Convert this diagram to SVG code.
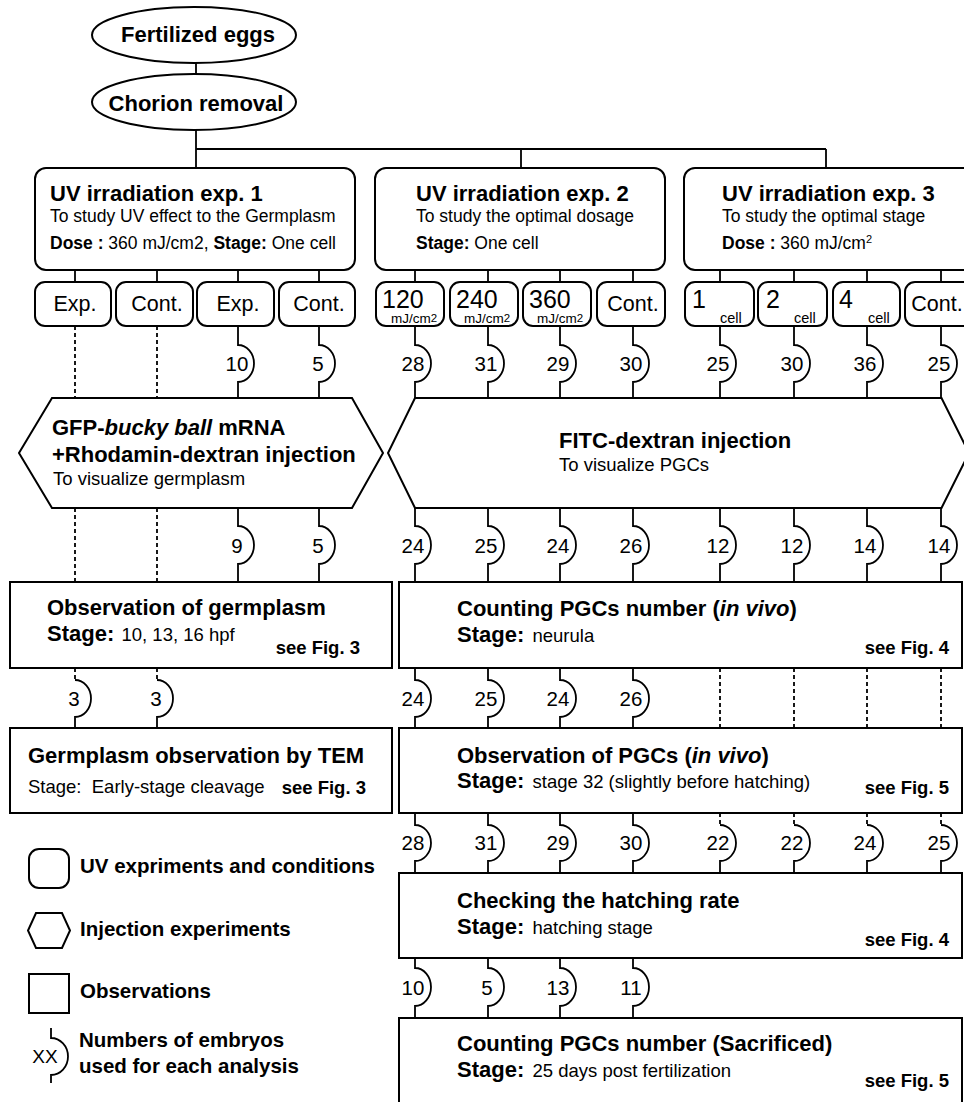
<svg xmlns="http://www.w3.org/2000/svg" width="964" height="1102" viewBox="0 0 964 1102">
<style>
text{font-family:"Liberation Sans",Arial,Helvetica,sans-serif;fill:#000}
.box{fill:#fff;stroke:#000;stroke-width:2}
.ln{fill:none;stroke:#000;stroke-width:1.8}
.ds{fill:none;stroke:#000;stroke-width:1.8;stroke-dasharray:4 3}
.h{font-size:22px;font-weight:bold}
.b{font-weight:bold}
.i{font-style:italic}
.s{font-size:17.5px}
.v{font-size:18.5px}
.sf{font-size:18.5px;font-weight:bold;text-anchor:end}
.n{font-size:20.5px;text-anchor:middle}
.c{font-size:21.5px;text-anchor:middle}
.big{font-size:25px}
.sm{font-size:13.5px}
.cl{font-size:14.5px}
.lg{font-size:20.5px;font-weight:bold}
.mid{text-anchor:middle}
</style>
<rect width="964" height="1102" fill="#fff"/>

<g id="connectors">
  <path class="ln" d="M196,63V74M196,130V168M196,149H826M521,149V168M826,149V168"/>
  <path class="ln" d="M75,270V282M157,270V282M238,270V282M319,270V282M415,270V282M488,270V282M560,270V282M633,270V282M720,270V282M794,270V282M867,270V282M941,270V282"/>
  <!-- Row A -->
  <path class="ds" d="M75,326V398M157,326V398"/>
  <path class="ln" d="M238,326V345A16,18.5 0 0 1 238,382V398M319,326V345A16,18.5 0 0 1 319,382V398M415,326V345A16,18.5 0 0 1 415,382V398M488,326V345A16,18.5 0 0 1 488,382V398M560,326V345A16,18.5 0 0 1 560,382V398M633,326V345A16,18.5 0 0 1 633,382V398M720,326V345A16,18.5 0 0 1 720,382V398M794,326V345A16,18.5 0 0 1 794,382V398M867,326V345A16,18.5 0 0 1 867,382V398M941,326V345A16,18.5 0 0 1 941,382V398"/>
  <g class="n">
    <text x="237" y="371">10</text><text x="318" y="371">5</text>
    <text x="413" y="371">28</text><text x="486" y="371">31</text><text x="558" y="371">29</text><text x="631" y="371">30</text>
    <text x="718" y="371">25</text><text x="792" y="371">30</text><text x="865" y="371">36</text><text x="939" y="371">25</text>
  </g>
  <!-- Row B -->
  <path class="ds" d="M75,508V582M157,508V582"/>
  <path class="ln" d="M238,508V526A16,19 0 0 1 238,564V582M319,508V526A16,19 0 0 1 319,564V582M415,508V526A16,19 0 0 1 415,564V582M488,508V526A16,19 0 0 1 488,564V582M560,508V526A16,19 0 0 1 560,564V582M633,508V526A16,19 0 0 1 633,564V582M720,508V526A16,19 0 0 1 720,564V582M794,508V526A16,19 0 0 1 794,564V582M867,508V526A16,19 0 0 1 867,564V582M941,508V526A16,19 0 0 1 941,564V582"/>
  <g class="n">
    <text x="237" y="553">9</text><text x="318" y="553">5</text>
    <text x="413" y="553">24</text><text x="486" y="553">25</text><text x="558" y="553">24</text><text x="631" y="553">26</text>
    <text x="718" y="553">12</text><text x="792" y="553">12</text><text x="865" y="553">14</text><text x="939" y="553">14</text>
  </g>
  <!-- Row C -->
  <path class="ds" d="M75,668V680M157,668V680M720,668V728M794,668V728M867,668V728M941,668V728"/>
  <path class="ln" d="M75,680A16,18.5 0 0 1 75,717V728M157,680A16,18.5 0 0 1 157,717V728M415,668V680A16,18.5 0 0 1 415,717V728M488,668V680A16,18.5 0 0 1 488,717V728M560,668V680A16,18.5 0 0 1 560,717V728M633,668V680A16,18.5 0 0 1 633,717V728"/>
  <g class="n">
    <text x="74" y="706">3</text><text x="156" y="706">3</text>
    <text x="413" y="706">24</text><text x="486" y="706">25</text><text x="558" y="706">24</text><text x="631" y="706">26</text>
  </g>
  <!-- Row D -->
  <path class="ds" d="M720,813V825M794,813V825M867,813V825M941,813V825"/>
  <path class="ln" d="M415,813V825A16,18 0 0 1 415,861V873M488,813V825A16,18 0 0 1 488,861V873M560,813V825A16,18 0 0 1 560,861V873M633,813V825A16,18 0 0 1 633,861V873M720,825A16,18 0 0 1 720,861V873M794,825A16,18 0 0 1 794,861V873M867,825A16,18 0 0 1 867,861V873M941,825A16,18 0 0 1 941,861V873"/>
  <g class="n">
    <text x="413" y="850">28</text><text x="486" y="850">31</text><text x="558" y="850">29</text><text x="631" y="850">30</text>
    <text x="718" y="850">22</text><text x="792" y="850">22</text><text x="865" y="850">24</text><text x="939" y="850">25</text>
  </g>
  <!-- Row E -->
  <path class="ln" d="M415,958V968A16,19 0 0 1 415,1006V1018M488,958V968A16,19 0 0 1 488,1006V1018M560,958V968A16,19 0 0 1 560,1006V1018M633,958V968A16,19 0 0 1 633,1006V1018"/>
  <g class="n">
    <text x="413" y="995">10</text><text x="487" y="995">5</text><text x="558" y="995">13</text><text x="631" y="995">11</text>
  </g>
</g>

<g id="fertilized-eggs">
  <ellipse class="box" cx="194" cy="35" rx="102" ry="28"/>
  <text class="h mid" x="198" y="42">Fertilized eggs</text>
</g>
<g id="chorion-removal">
  <ellipse class="box" cx="194" cy="102" rx="102" ry="28"/>
  <text class="h mid" x="196" y="111">Chorion removal</text>
</g>

<g id="uv-exp1">
  <rect class="box" x="35" y="168" width="320" height="102" rx="11"/>
  <text class="h" x="50" y="201">UV irradiation exp. 1</text>
  <text class="s" x="50" y="222">To study UV effect to the Germplasm</text>
  <text class="s" x="50" y="249"><tspan class="b">Dose :</tspan> 360 mJ/cm2, <tspan class="b">Stage:</tspan> One cell</text>
</g>
<g id="uv-exp2">
  <rect class="box" x="375" y="168" width="290" height="102" rx="11"/>
  <text class="h" x="416" y="201">UV irradiation exp. 2</text>
  <text class="s" x="416" y="222">To study the optimal dosage</text>
  <text class="s" x="416" y="249"><tspan class="b">Stage:</tspan> One cell</text>
</g>
<g id="uv-exp3">
  <rect class="box" x="684" y="168" width="290" height="102" rx="11"/>
  <text class="h" x="722" y="201">UV irradiation exp. 3</text>
  <text class="s" x="722" y="222">To study the optimal stage</text>
  <text class="s" x="722" y="249"><tspan class="b">Dose :</tspan> 360 mJ/cm<tspan font-size="11" dy="-6">2</tspan></text>
</g>

<g id="exp1-conditions">
  <rect class="box" x="35" y="282" width="76" height="44" rx="10"/>
  <rect class="box" x="116" y="282" width="77" height="44" rx="10"/>
  <rect class="box" x="197" y="282" width="77" height="44" rx="10"/>
  <rect class="box" x="279" y="282" width="76" height="44" rx="10"/>
  <text class="c" x="75" y="311">Exp.</text>
  <text class="c" x="157" y="311">Cont.</text>
  <text class="c" x="238" y="311">Exp.</text>
  <text class="c" x="319" y="311">Cont.</text>
</g>
<g id="exp2-conditions">
  <rect class="box" x="376" y="282" width="68" height="44" rx="10"/>
  <rect class="box" x="450" y="282" width="68" height="44" rx="10"/>
  <rect class="box" x="523" y="282" width="68" height="44" rx="10"/>
  <rect class="box" x="597" y="282" width="68" height="44" rx="10"/>
  <text class="big" x="382" y="307.5">120</text><text class="sm" x="391" y="322.5">mJ/cm<tspan font-size="11.5" dy="-1">2</tspan></text>
  <text class="big" x="456" y="307.5">240</text><text class="sm" x="464" y="322.5">mJ/cm<tspan font-size="11.5" dy="-1">2</tspan></text>
  <text class="big" x="529" y="307.5">360</text><text class="sm" x="537" y="322.5">mJ/cm<tspan font-size="11.5" dy="-1">2</tspan></text>
  <text class="c" x="633" y="311">Cont.</text>
</g>
<g id="exp3-conditions">
  <rect class="box" x="685" y="282" width="69" height="44" rx="10"/>
  <rect class="box" x="758" y="282" width="69" height="44" rx="10"/>
  <rect class="box" x="833" y="282" width="67" height="44" rx="10"/>
  <rect class="box" x="905" y="282" width="69" height="44" rx="10"/>
  <text class="big" x="692" y="307.5">1</text><text class="cl" x="720" y="322.5">cell</text>
  <text class="big" x="766" y="307.5">2</text><text class="cl" x="794" y="322.5">cell</text>
  <text class="big" x="839" y="307.5">4</text><text class="cl" x="868" y="322.5">cell</text>
  <text class="c" x="937" y="311">Cont.</text>
</g>

<g id="gfp-injection">
  <polygon class="box" points="52,398 352,398 383,453 352,508 52,508 19,453"/>
  <text class="h" x="52" y="435">GFP-<tspan class="i">bucky ball</tspan> mRNA</text>
  <text class="h" x="52" y="461.5">+Rhodamin-dextran injection</text>
  <text class="v" x="53" y="485">To visualize germplasm</text>
</g>
<g id="fitc-injection">
  <polygon class="box" points="415,398 941.5,398 969,453 941.5,508 415,508 388,453"/>
  <text class="h" x="559" y="448">FITC-dextran injection</text>
  <text class="v" x="559" y="471">To visualize PGCs</text>
</g>

<g id="obs-germplasm">
  <rect class="box" x="10" y="582" width="382" height="86"/>
  <text class="h" x="47" y="615">Observation of germplasm</text>
  <text x="47" y="641"><tspan class="h">Stage:</tspan><tspan class="v" x="121.5">10, 13, 16 hpf</tspan></text>
  <text class="sf" x="360" y="653.5">see Fig. 3</text>
</g>
<g id="tem">
  <rect class="box" x="10" y="728" width="382" height="85"/>
  <text class="h" x="28" y="763">Germplasm observation by TEM</text>
  <text class="v" x="28" y="793" style="white-space:pre">Stage:  Early-stage cleavage</text>
  <text class="sf" x="366" y="793.5">see Fig. 3</text>
</g>
<g id="counting-in-vivo">
  <rect class="box" x="399" y="582" width="563" height="86"/>
  <text class="h" x="457" y="616">Counting PGCs number (<tspan class="i">in vivo</tspan>)</text>
  <text x="457" y="641.5"><tspan class="h">Stage:</tspan><tspan class="v" x="532.5">neurula</tspan></text>
  <text class="sf" x="949" y="653.5">see Fig. 4</text>
</g>
<g id="obs-pgcs">
  <rect class="box" x="399" y="728" width="563" height="85"/>
  <text class="h" x="457" y="763">Observation of PGCs (<tspan class="i">in vivo</tspan>)</text>
  <text x="457" y="788"><tspan class="h">Stage:</tspan><tspan class="v" x="532.5">stage 32 (slightly before hatching)</tspan></text>
  <text class="sf" x="949" y="794">see Fig. 5</text>
</g>
<g id="hatching">
  <rect class="box" x="399" y="873" width="563" height="85"/>
  <text class="h" x="457" y="907.5">Checking the hatching rate</text>
  <text x="457" y="933.5"><tspan class="h">Stage:</tspan><tspan class="v" x="532.5">hatching stage</tspan></text>
  <text class="sf" x="949" y="946">see Fig. 4</text>
</g>
<g id="counting-sacrificed">
  <rect class="box" x="399" y="1018" width="563" height="100"/>
  <text class="h" x="457" y="1051">Counting PGCs number (Sacrificed)</text>
  <text x="457" y="1077"><tspan class="h">Stage:</tspan><tspan class="v" x="532.5">25 days post fertilization</tspan></text>
  <text class="sf" x="949" y="1087">see Fig. 5</text>
</g>

<g id="legend">
  <rect class="box" x="29" y="849" width="40" height="39" rx="10"/>
  <text class="lg" x="80" y="873">UV expriments and conditions</text>
  <polygon class="box" points="36,913 62,913 70,930.5 62,948 36,948 28,930.5"/>
  <text class="lg" x="80" y="936">Injection experiments</text>
  <rect class="box" x="29" y="974" width="40" height="39"/>
  <text class="lg" x="80" y="998">Observations</text>
  <path class="ln" d="M51,1028V1038A17,18.5 0 0 1 51,1075V1083"/>
  <text x="45" y="1062.5" font-size="19" text-anchor="middle">XX</text>
  <text class="lg" x="79" y="1047">Numbers of embryos</text>
  <text class="lg" x="79" y="1073">used for each analysis</text>
</g>
</svg>
